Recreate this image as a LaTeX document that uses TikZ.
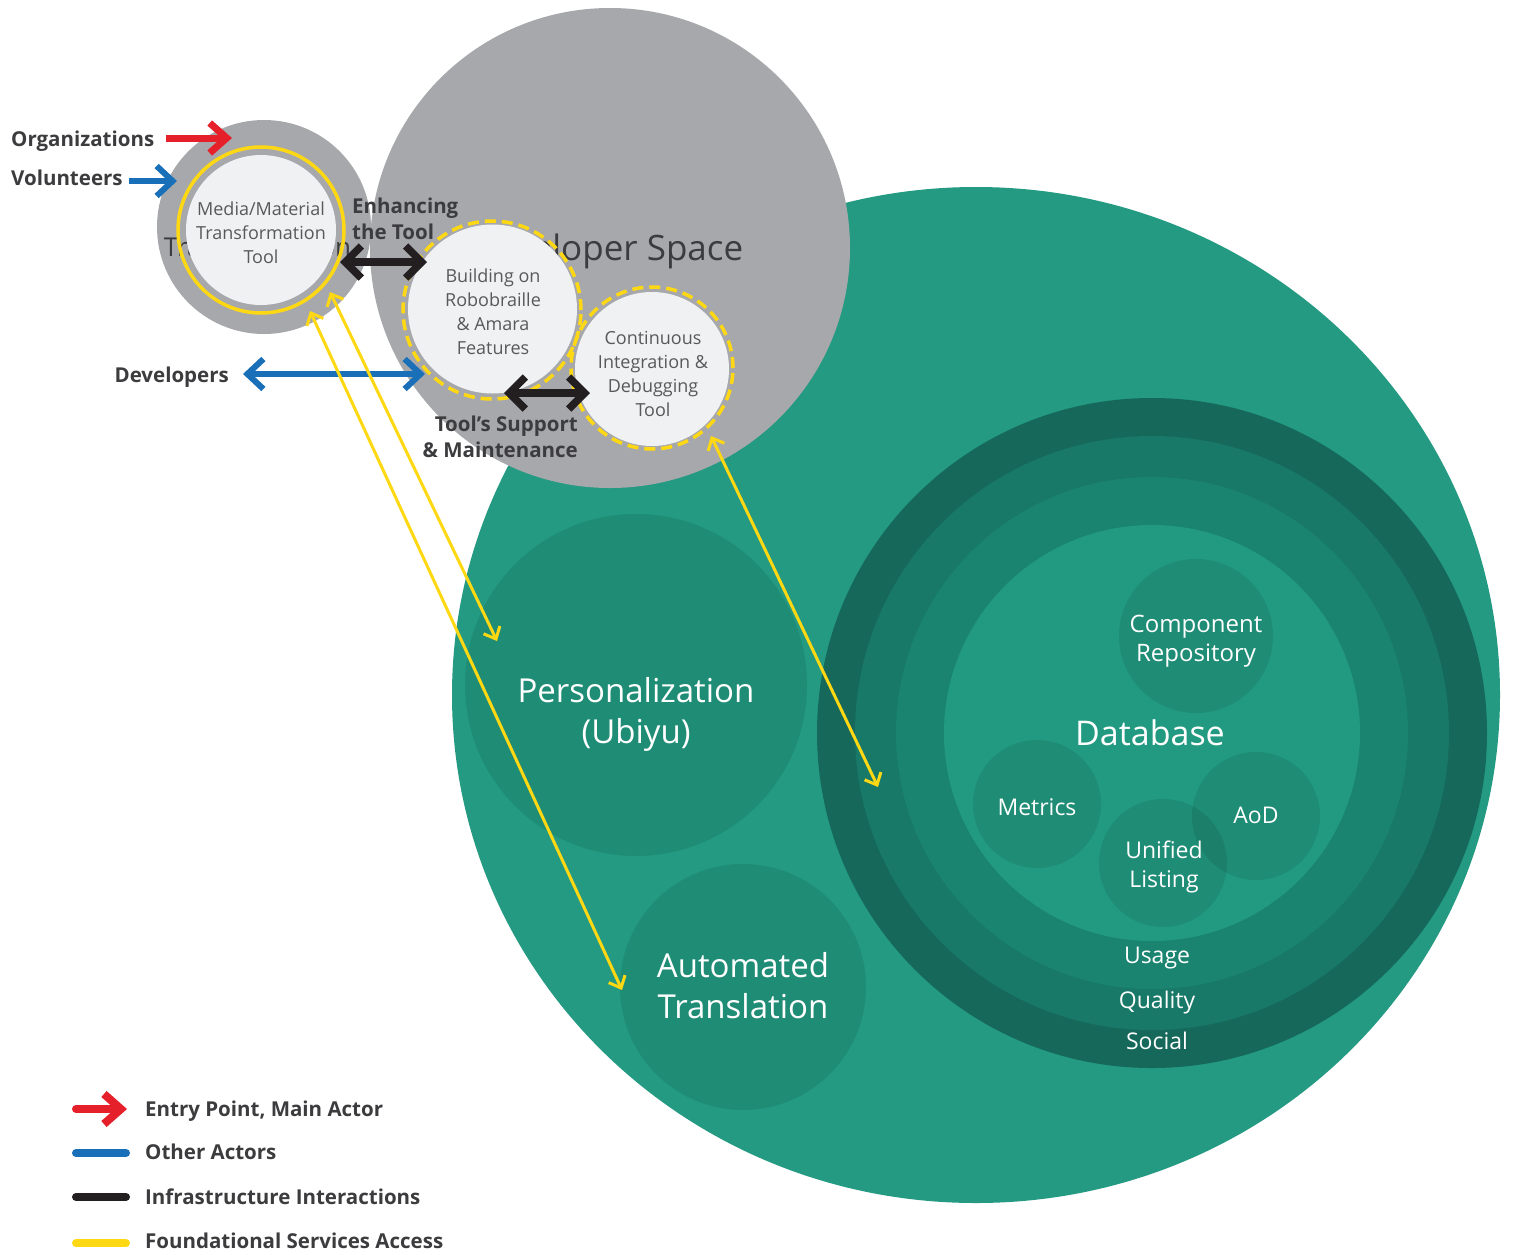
\documentclass[tikz,border=0pt]{standalone}
\usepackage{fontspec}
\setmainfont{Open Sans}
\usetikzlibrary{arrows.meta,shapes.geometric}
\definecolor{gbig}{HTML}{239A81}
\definecolor{ringA}{HTML}{15685A}
\definecolor{ringB}{HTML}{187968}
\definecolor{ringC}{HTML}{1A8470}
\definecolor{ringD}{HTML}{229A81}
\definecolor{grayc}{HTML}{A7A8AB}
\definecolor{lightc}{HTML}{F0F1F3}
\definecolor{ylw}{HTML}{FFD814}
\definecolor{rdc}{HTML}{E5202A}
\definecolor{blc}{HTML}{1A70B8}
\definecolor{blkc}{HTML}{231F20}
\definecolor{txtc}{HTML}{3C3C3E}
\definecolor{ctxt}{HTML}{58595B}
\newcommand\myfs[2]{\fontsize{#1}{#2}\selectfont}
\begin{document}
\begin{tikzpicture}[x=1pt,y=-1pt,
  disc/.style={circle,inner sep=0pt,outer sep=0pt,minimum size=#1},
  shadec/.style={fill=black,fill opacity=0.085,text opacity=1},
  wtext/.style={text=white,align=center,inner sep=0pt,text opacity=1},
  ctext/.style={text=ctxt,align=center,inner sep=0pt,font=\myfs{18}{24}},
  lbl/.style={text=txtc,inner sep=0pt,font=\bfseries\myfs{20.5}{26}},
  ringy/.style={draw=ylw,line width=3.5pt},
  dashy/.style={draw=ylw,line width=3.5pt,dash pattern=on 11pt off 6pt},
  blkarrow/.style={draw=blkc,line width=7.5pt,{Straight Barb[length=16pt,width=32pt]}-{Straight Barb[length=16pt,width=32pt]}},
  bluearrow/.style={draw=blc,line width=6pt,{Straight Barb[length=16pt,width=30pt]}-{Straight Barb[length=16pt,width=30pt]}},
  bluein/.style={draw=blc,line width=6pt,-{Straight Barb[length=16pt,width=30pt]}},
  redin/.style={draw=rdc,line width=7pt,-{Straight Barb[length=17pt,width=30pt]}},
  ylwarrow/.style={draw=ylw,line width=3pt,{Straight Barb[length=10pt,width=18pt]}-{Straight Barb[length=10pt,width=18pt]}},
  legline/.style={line width=8pt,line cap=round}
]
\useasboundingbox (0,0) rectangle (1513,1254);
\fill[white] (0,0) rectangle (1513,1254);

% big green area
\node[ellipse,fill=gbig,inner sep=0pt,minimum width=1048pt,minimum height=1016pt] (green) at (976,695) {};

% personalization & translation
\node[disc=342pt,shadec] (pers) at (636,685) {};
\node[wtext,font=\myfs{33}{41}] (perstext) at (636,714) {Personalization\\(Ubiyu)};
\node[disc=246pt,shadec] (auto) at (743,987) {};
\node[wtext,font=\myfs{33}{41}] (autotext) at (743,986) {Automated\\Translation};

% database rings
\node[disc=670pt,fill=ringA] (db1) at (1152,733) {};
\node[disc=594pt,fill=ringB] (db2) at (1152,733) {};
\node[disc=512pt,fill=ringC] (db3) at (1152,733) {};
\node[disc=416pt,fill=ringD] (db4) at (1152,733) {};
\node[wtext,font=\myfs{34}{40}] (dbtext) at (1150,733) {Database};
\node[wtext,font=\myfs{23}{28}] (usage) at (1157,958) {Usage};
\node[wtext,font=\myfs{23}{28}] (quality) at (1157,1003) {Quality};
\node[wtext,font=\myfs{23}{28}] (social) at (1157,1041) {Social};

\node[disc=154pt,shadec] (comp) at (1196,636) {};
\node[wtext,font=\myfs{24}{29}] (comptext) at (1196,641) {Component\\Repository};
\node[disc=128pt,shadec] (metrics) at (1037,804) {};
\node[wtext,font=\myfs{23}{29}] (metricstext) at (1037,807) {Metrics};
\node[disc=128pt,shadec] (aod) at (1256,816) {};
\node[wtext,font=\myfs{23}{29}] (aodtext) at (1256,815) {AoD};
\node[disc=128pt,shadec] (unified) at (1163,863) {};
\node[wtext,font=\myfs{23}{29}] (unifiedtext) at (1164,867) {Unified\\Listing};

% developer space
\node[disc=480pt,fill=grayc] (dev) at (610,248) {};
\node[text=txtc,inner sep=0pt,font=\myfs{35}{40},anchor=base] (devtext) at (607,260) {Developer Space};

% transformation
\node[disc=214pt,fill=grayc] (trans) at (264,227) {};
\node[text=txtc,inner sep=0pt,font=\myfs{26}{30},anchor=base] (transtext) at (257.5,256) {Transformation};

\node[disc=166pt,ringy] (mediaring) at (261,230) {};
\node[disc=150pt,fill=lightc] (media) at (261,230) {};
\node[ctext] (mediatext) at (261,233) {Media/Material\\Transformation\\Tool};

\node[disc=178pt,dashy] (buildring) at (492,310) {};
\node[disc=169pt,fill=lightc] (build) at (492.5,309) {};
\node[ctext] (buildtext) at (493,312) {Building on\\Robobraille\\\& Amara\\Features};

\node[disc=162pt,dashy] (contring) at (652,368) {};
\node[disc=154pt,fill=lightc] (cont) at (652,369) {};
\node[ctext] (conttext) at (653,374) {Continuous\\Integration \&\\Debugging\\Tool};

% labels
\node[lbl,anchor=base west] (orgs) at (11,146) {Organizations};
\node[lbl,anchor=base west] (vols) at (11,185) {Volunteers};
\node[lbl,anchor=base east] (devs) at (229,382) {Developers};
\node[lbl,anchor=north west,align=left] (enh) at (352,198) {Enhancing\\the Tool};
\node[lbl,anchor=north east,align=right] (supp) at (578,416) {Tool’s Support\\\& Maintenance};

% connector end points
\coordinate (orgTail) at (166,138);
\coordinate (orgTip) at (232,138);
\coordinate (volTail) at (129,181);
\coordinate (volTip) at (177,181);
\coordinate (devTip) at (243,374);
\coordinate (buildDev) at (425,374);
\coordinate (mediaBlk) at (340,262);
\coordinate (buildBlk) at (427,262);
\coordinate (buildBlk2) at (504,393);
\coordinate (contBlk) at (590,393);
\coordinate (mediaY1) at (310,311);
\coordinate (autoY) at (622,990);
\coordinate (mediaY2) at (330,292);
\coordinate (persY) at (497,641);
\coordinate (contY) at (711,436);
\coordinate (dbY) at (878,787);

% connectors
\draw[redin] (orgTail) -- (orgTip);
\draw[bluein] (volTail) -- (volTip);
\draw[bluearrow] (devTip) -- (buildDev);
\draw[blkarrow] (mediaBlk) -- (buildBlk);
\draw[blkarrow] (buildBlk2) -- (contBlk);
\draw[ylwarrow] (mediaY1) -- (autoY);
\draw[ylwarrow] (mediaY2) -- (persY);
\draw[ylwarrow] (contY) -- (dbY);

% legend
\draw[legline,rdc,-{Straight Barb[length=17pt,width=30pt]}] (76,1109) -- (127,1109);
\draw[legline,blc] (76,1153) -- (126,1153);
\draw[legline,blkc] (76,1197) -- (126,1197);
\draw[legline,ylw] (76,1243) -- (126,1243);
\node[lbl,anchor=base west] (leg1) at (145,1116) {Entry Point, Main Actor};
\node[lbl,anchor=base west] (leg2) at (145,1159) {Other Actors};
\node[lbl,anchor=base west] (leg3) at (145,1204) {Infrastructure Interactions};
\node[lbl,anchor=base west] (leg4) at (145,1248) {Foundational Services Access};
\end{tikzpicture}
\end{document}
